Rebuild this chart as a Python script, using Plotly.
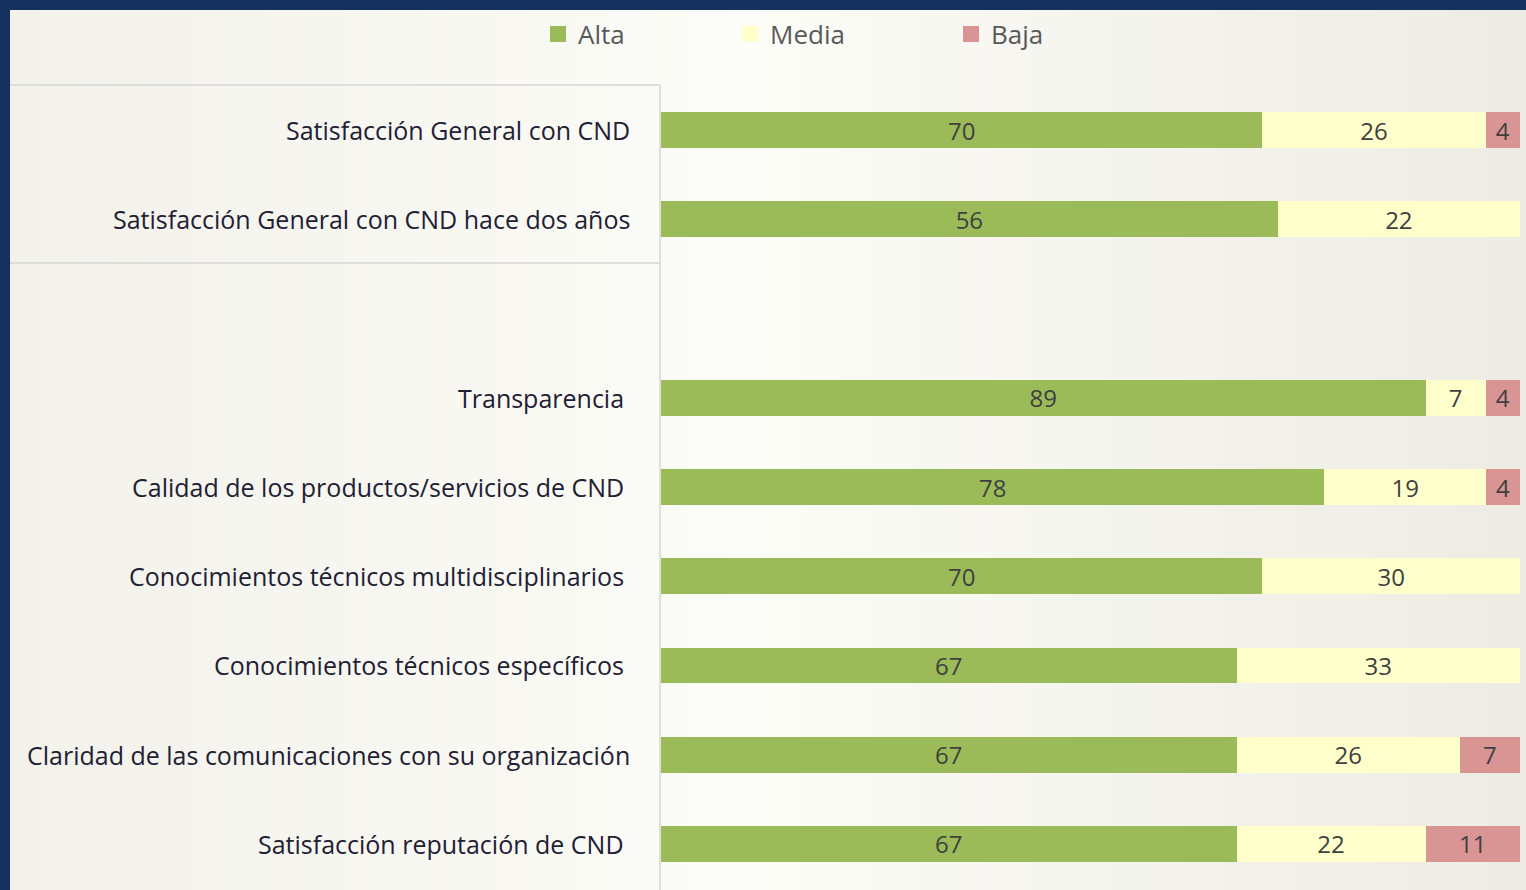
import plotly.graph_objects as go

# ---- data ----
categories = [
    "Satisfacción General con CND",
    "Satisfacción General con CND hace dos años",
    " ",
    "Transparencia",
    "Calidad de los productos/servicios de CND",
    "Conocimientos técnicos multidisciplinarios",
    "Conocimientos técnicos específicos",
    "Claridad de las comunicaciones con su organización",
    "Satisfacción reputación de CND",
]
alta = [70, 56, None, 89, 78, 70, 67, 67, 67]
media = [26, 22, None, 7, 19, 30, 33, 26, 22]
baja = [4, None, None, 4, 4, None, None, 7, 11]
series_names = ["Alta", "Media", "Baja"]
series_colors = ["#9bbb59", "#ffffcc", "#d99594"]
label_right_px = [632, 632, None, 626, 626, 626, 626, 632, 626]

W, H = 1526, 890
FONT = "Open Sans"
TXT = "#1f2033"

fig = go.Figure()
legends = ["legend", "legend2", "legend3"]
for name, vals, col, lg in zip(series_names, [alta, media, baja], series_colors, legends):
    fig.add_trace(go.Bar(
        y=categories, x=vals, orientation="h", name=name,
        marker=dict(color=col, line=dict(width=0)),
        text=[("" if v is None else str(v)) for v in vals],
        texttemplate="%{text}", textposition="inside", textangle=0,
        insidetextanchor="middle", constraintext="none",
        textfont=dict(family=FONT, size=24, color="#404040"),
        showlegend=False, hoverinfo="skip",
    ))
    # legend-only entry with a larger square swatch
    fig.add_trace(go.Scatter(
        x=[None], y=[None], mode="markers", name=name,
        marker=dict(symbol="square", size=16, color=col),
        legend=lg, hoverinfo="skip",
    ))

# background gradient strips (style only)
def lerp(c1, c2, t):
    return tuple(round(a + (b - a) * t) for a, b in zip(c1, c2))

stops = [(0.0, (242, 241, 234)), (0.5, (252, 252, 248)), (1.0, (236, 235, 227))]
shapes = []
N = 40
for i in range(N):
    t = (i + 0.5) / N
    for (p0, c0), (p1, c1) in zip(stops[:-1], stops[1:]):
        if p0 <= t <= p1:
            c = lerp(c0, c1, (t - p0) / (p1 - p0))
    shapes.append(dict(type="rect", xref="paper", yref="paper", x0=i / N, x1=(i + 1) / N + 0.001,
                       y0=0, y1=1, fillcolor="rgb(%d,%d,%d)" % c, line=dict(width=0), layer="below"))

def px(x):
    return x / W

def py(y):
    return (H - y) / H

# box lines
line_col = "#d6d6d6"
shapes += [
    dict(type="line", xref="paper", yref="paper", x0=px(10), x1=px(660), y0=py(85), y1=py(85),
         line=dict(color=line_col, width=1.5), layer="below"),
    dict(type="line", xref="paper", yref="paper", x0=px(10), x1=px(660), y0=py(263), y1=py(263),
         line=dict(color=line_col, width=1.5), layer="below"),
    dict(type="line", xref="paper", yref="paper", x0=px(660), x1=px(660), y0=py(85), y1=0,
         line=dict(color=line_col, width=1.5), layer="below"),
]
# navy frame
navy = "#14305c"
shapes += [
    dict(type="rect", xref="paper", yref="paper", x0=0, x1=1, y0=py(10), y1=1,
         fillcolor=navy, line=dict(width=0), layer="above"),
    dict(type="rect", xref="paper", yref="paper", x0=0, x1=px(10), y0=0, y1=1,
         fillcolor=navy, line=dict(width=0), layer="above"),
]

annotations = []
for cat, xr in zip(categories, label_right_px):
    if xr is None:
        continue
    annotations.append(dict(x=px(xr), xref="paper", y=cat, yref="y", text=cat, showarrow=False,
                            xanchor="right", yanchor="middle",
                            font=dict(family=FONT, size=25, color=TXT)))

leg_common = dict(orientation="h", yanchor="middle", y=py(34), xanchor="left",
                  bgcolor="rgba(0,0,0,0)", font=dict(family=FONT, size=26, color="#595959"),
                  itemclick=False, itemdoubleclick=False, itemsizing="trace")

fig.update_layout(
    width=W, height=H,
    margin=dict(l=0, r=0, t=0, b=0),
    paper_bgcolor="#f8f7f2", plot_bgcolor="rgba(0,0,0,0)",
    barmode="stack", barnorm="percent", bargap=0.6,
    showlegend=True,
    legend=dict(x=px(538), **leg_common),
    legend2=dict(x=px(730), **leg_common),
    legend3=dict(x=px(951), **leg_common),
    xaxis=dict(domain=[px(661), px(1520)], range=[0, 100], visible=False, fixedrange=True),
    yaxis=dict(domain=[py(888.5), py(85.5)], type="category", categoryorder="array",
               categoryarray=categories, autorange="reversed", showticklabels=False,
               showgrid=False, zeroline=False, showline=False, ticks="", fixedrange=True),
    shapes=shapes,
    annotations=annotations,
)

fig.write_html("out.html", config={"displayModeBar": False},
               post_script="document.body.style.margin='0';")
